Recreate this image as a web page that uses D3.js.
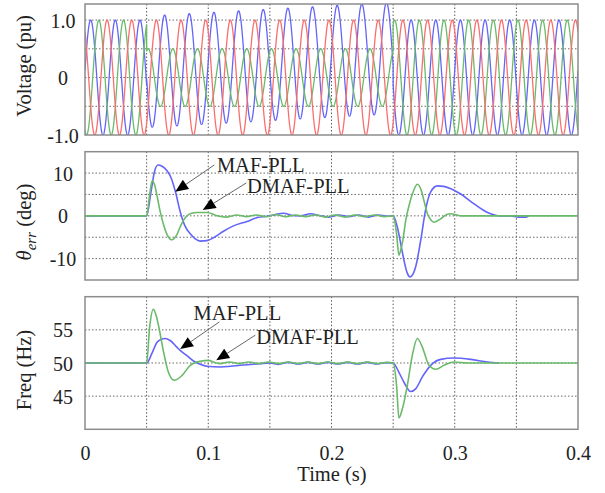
<!DOCTYPE html>
<html>
<head>
<meta charset="utf-8">
<script src="https://cdn.jsdelivr.net/npm/d3@7"></script>
<style>
  body { margin: 0; background: #fff; }
  svg { display: block; }
</style>
</head>
<body>
<div id="chart"></div>
<script>
// ---- data ----
const timeTicks = [0, 0.1, 0.2, 0.3, 0.4];
const timeGrid = [0.05, 0.1, 0.15, 0.2, 0.25, 0.3, 0.35];

// three-phase voltage: segment limits, crest time of phase a, per-phase amplitudes
const segBounds = [0, 0.05, 0.25, 0.4];
const gridFreq = 50;
const phaseAPeak = 0.0046;
const phaseLag = [0, 120, 240];
const ampA = [1, 0.97, 1];
const ampB = [1, 0.5, 1];
const ampC = [1, 1, 1];
// offset of phase a during the unbalance
const dcTimes = [0.05, 0.1, 0.15, 0.2, 0.25];
const dcA = [0.1, 0.16, 0.22, 0.28, 0.34];
const voltTicks = [-1, 0, 1];
const voltGrid = [-0.5, 0, 0.5, 1];

const thetaMAF = [[0,0],[0.05,0],[0.0535,5.5],[0.0565,10.5],[0.0592,11.9],[0.0625,11.6],[0.0664,10.6],
  [0.07,8.8],[0.0735,5.5],[0.0772,1.0],[0.081,-2.3],[0.0854,-4.2],[0.0895,-5.4],[0.0935,-5.9],[0.099,-5.8],
  [0.105,-5.0],[0.1124,-3.6],[0.12,-2.4],[0.1315,-1.3],[0.14,-0.4],[0.1477,-0.1],[0.153,0.2],[0.1612,0.6],
  [0.168,0.1],[0.1748,0],[0.183,0.5],[0.19,0.1],[0.198,-0.3],[0.206,0.2],[0.214,-0.2],[0.222,0.2],[0.23,-0.3],
  [0.238,0.2],[0.245,-0.1],[0.25,0],[0.2534,-2.6],[0.2565,-7.0],[0.2588,-10.4],[0.2615,-13.4],[0.2637,-14.3],
  [0.266,-13.7],[0.2683,-11.9],[0.2724,-5.7],[0.2764,1.5],[0.2805,5.6],[0.2859,7.0],[0.291,6.9],[0.2994,6.0],
  [0.3049,5.1],[0.3157,2.8],[0.3266,0.8],[0.3374,0],[0.345,0],[0.352,-0.3],[0.358,-0.3],[0.36,0]];
const thetaDMAF = [[0,0],[0.05,0],[0.0525,5.0],[0.0545,8.2],[0.0565,7.2],[0.0585,4.6],[0.061,1.0],[0.0637,-2.0],
  [0.067,-4.6],[0.0705,-5.6],[0.074,-4.7],[0.0772,-2.6],[0.08,-1.0],[0.0827,0],[0.0865,0.6],[0.0908,0.8],
  [0.099,0.8],[0.104,0.4],[0.107,0],[0.115,-0.3],[0.123,0.2],[0.131,-0.2],[0.139,0.2],[0.147,-0.2],[0.155,0.3],
  [0.163,-0.2],[0.171,0.2],[0.179,-0.2],[0.187,0.2],[0.195,-0.3],[0.203,0.2],[0.211,-0.3],[0.219,0.2],
  [0.227,-0.2],[0.235,0.2],[0.243,-0.2],[0.25,0],[0.2528,-4.2],[0.2547,-9.2],[0.2561,-8.1],[0.258,-5.5],
  [0.2602,-1.1],[0.263,2.5],[0.2656,5.1],[0.2697,7.4],[0.2729,5.9],[0.2755,3.0],[0.2778,0.5],[0.2805,-0.9],
  [0.2832,-1.5],[0.2886,-0.7],[0.2935,0.3],[0.2967,0.5],[0.3049,0],[0.4,0]];
const thetaTicks = [-10, 0, 10];
const thetaGrid = [-10, -5, 0, 5, 10];

const freqMAF = [[0,50],[0.05,50],[0.0542,51.4],[0.0583,53.1],[0.062,53.6],[0.065,53.7],[0.0691,53.4],
  [0.0745,52.4],[0.0772,51.9],[0.0827,51.1],[0.088,50.3],[0.0935,49.8],[0.099,49.5],[0.1098,49.4],[0.118,49.5],
  [0.126,49.65],[0.1423,49.9],[0.15,50.0],[0.157,49.8],[0.165,50.1],[0.173,49.85],[0.181,50.1],[0.189,49.85],
  [0.197,50.1],[0.205,49.85],[0.213,50.1],[0.221,49.85],[0.229,50.1],[0.237,49.85],[0.245,50.05],[0.25,50],
  [0.2547,48.6],[0.2588,47.1],[0.2642,45.7],[0.2683,46.1],[0.2737,47.9],[0.2805,49.65],[0.2886,50.55],
  [0.2994,50.75],[0.313,50.55],[0.3266,50.15],[0.336,50]];
const freqDMAF = [[0,50],[0.05,50],[0.0525,55.5],[0.0555,58.1],[0.0575,57.3],[0.0596,55.7],[0.0637,51.7],
  [0.0677,48.6],[0.0724,47.4],[0.0786,48.1],[0.0854,49.65],[0.0935,50.26],[0.1003,50.4],[0.105,50.1],
  [0.1098,49.9],[0.117,50.15],[0.125,49.9],[0.133,50.15],[0.141,49.9],[0.149,50.15],[0.157,49.9],[0.165,50.15],
  [0.173,49.9],[0.181,50.15],[0.189,49.9],[0.197,50.15],[0.205,49.9],[0.213,50.15],[0.221,49.9],[0.229,50.15],
  [0.237,49.9],[0.245,50.1],[0.25,50],[0.2528,46.6],[0.2547,41.7],[0.2575,43.1],[0.2615,46.6],[0.2656,51.2],
  [0.2697,53.7],[0.2737,52.4],[0.2791,49.65],[0.2846,49.05],[0.2913,49.65],[0.2994,50.15],[0.31,50],[0.4,50]];
const freqTicks = [45, 50, 55];
const freqGrid = [45, 50, 55];

// ---- drawing ----
const W = 605, H = 493;
const font = "'Liberation Serif', 'Times New Roman', serif";
const BLUE = "#6464fa", GREEN = "#6aba6a", RED = "#fb6e6e";

const svg = d3.select("#chart").append("svg")
    .attr("width", W)
    .attr("height", H)
    .style("font-family", font);

const x = d3.scaleLinear().domain([0, 0.4]).range([85, 578]);

// plain hyphen for negatives, like the original figure
const fmt1 = d => d === 0 ? "0" : d.toFixed(1);
const fmt0 = d => String(d);

function panel(id, top, bottom, domain, ticks, grid, fmt) {
    const y = d3.scaleLinear().domain(domain).range([bottom, top]);
    const g = svg.append("g");

    g.append("clipPath").attr("id", "clip-" + id)
        .append("rect")
        .attr("x", x(0)).attr("y", top)
        .attr("width", x(0.4) - x(0)).attr("height", bottom - top);

    g.selectAll(".hgrid").data(grid).enter().append("line")
        .attr("x1", x(0)).attr("x2", x(0.4))
        .attr("y1", d => y(d)).attr("y2", d => y(d))
        .attr("stroke", "#6a6a6a").attr("stroke-width", 1)
        .attr("stroke-dasharray", "1.5,2");

    g.selectAll(".vgrid").data(timeGrid).enter().append("line")
        .attr("x1", d => x(d)).attr("x2", d => x(d))
        .attr("y1", top).attr("y2", bottom)
        .attr("stroke", "#5a5a5a").attr("stroke-width", 1)
        .attr("stroke-dasharray", "1.5,2");

    const ax = g.append("g")
        .attr("transform", "translate(63,0)")
        .call(d3.axisLeft(y).tickValues(ticks).tickSize(0).tickFormat(fmt));
    ax.select(".domain").remove();
    ax.selectAll("text")
        .attr("x", 0).attr("dy", "0.35em")
        .attr("text-anchor", "middle")
        .style("font-family", font).style("font-size", "20px").attr("fill", "#222");

    const plot = g.append("g").attr("clip-path", "url(#clip-" + id + ")");
    return {y, g, plot, top, bottom};
}

function frame(p) {
    p.g.append("rect")
        .attr("x", x(0)).attr("y", p.top)
        .attr("width", x(0.4) - x(0)).attr("height", p.bottom - p.top)
        .attr("fill", "none").attr("stroke", "#8c8c8c").attr("stroke-width", 1.5);
}

function drawLine(p, data, color, w, curve) {
    const line = d3.line()
        .x(d => x(d[0]))
        .y(d => p.y(d[1]))
        .curve(curve || d3.curveLinear);
    p.plot.append("path")
        .datum(data)
        .attr("fill", "none")
        .attr("stroke", color)
        .attr("stroke-width", w)
        .attr("stroke-linejoin", "round")
        .attr("d", line);
}

function arrow(p, from, tip) {
    const x1 = x(from[0]), y1 = p.y(from[1]);
    const x2 = x(tip[0]), y2 = p.y(tip[1]);
    const len = Math.hypot(x2 - x1, y2 - y1);
    const ux = (x2 - x1) / len, uy = (y2 - y1) / len;
    const hl = 13, hw = 5.5;
    const bx = x2 - ux * hl, by = y2 - uy * hl;
    p.g.append("line")
        .attr("x1", x1).attr("y1", y1).attr("x2", bx).attr("y2", by)
        .attr("stroke", "#666").attr("stroke-width", 1);
    p.g.append("path")
        .attr("d", `M${x2},${y2}L${bx - uy * hw},${by + ux * hw}L${bx + uy * hw},${by - ux * hw}Z`)
        .attr("fill", "#000");
}

function note(p, text, at) {
    p.g.append("text")
        .attr("x", x(at[0])).attr("y", p.y(at[1]))
        .style("font-size", "20.5px").attr("fill", "#222")
        .text(text);
}

function yTitle(cx, cy) {
    return svg.append("text")
        .attr("transform", `translate(${cx},${cy}) rotate(-90)`)
        .attr("text-anchor", "middle")
        .style("font-size", "20.5px").attr("fill", "#222");
}

// panel 1: voltages
const p1 = panel("v", 4, 135, [-1, 1.28], voltTicks, voltGrid, fmt1);
const dc = d3.scaleLinear().domain(dcTimes).range(dcA).clamp(true);
const amps = [ampA, ampB, ampC];
function phaseSeries(k) {
    const pts = [];
    for (let s = 0; s < 3; s++) {
        const n = Math.round((segBounds[s + 1] - segBounds[s]) / 1e-4);
        for (let i = 0; i <= n; i++) {
            const t = segBounds[s] + i * 1e-4;
            const off = (k === 0 && s === 1) ? dc(t) : 0;
            const ang = 2 * Math.PI * gridFreq * (t - phaseAPeak) - phaseLag[k] * Math.PI / 180;
            pts.push([t, off + amps[k][s] * Math.cos(ang)]);
        }
    }
    return pts;
}
[BLUE, GREEN, RED].forEach((c, k) => drawLine(p1, phaseSeries(k), c, 1.3));
frame(p1);
yTitle(31, 66).text("Voltage (pu)");

// panel 2: phase error
const p2 = panel("t", 151.7, 280, [-15, 15], thetaTicks, thetaGrid, fmt0);
drawLine(p2, thetaMAF, BLUE, 1.6, d3.curveMonotoneX);
drawLine(p2, thetaDMAF, GREEN, 1.6, d3.curveMonotoneX);
frame(p2);
note(p2, "MAF-PLL", [0.107, 10.3]);
arrow(p2, [0.1049, 11.9], [0.0732, 5.65]);
note(p2, "DMAF-PLL", [0.1315, 5.4]);
arrow(p2, [0.1309, 7.7], [0.0955, 1.35]);
const tt = yTitle(31, 222);
tt.append("tspan").style("font-style", "italic").text("θ");
tt.append("tspan").style("font-style", "italic").style("font-size", "15px")
    .attr("dy", 5).text("err");
tt.append("tspan").attr("dy", -5).text(" (deg)");

// panel 3: frequency
const p3 = panel("f", 296.7, 429.3, [40, 60], freqTicks, freqGrid, fmt0);
drawLine(p3, freqMAF, BLUE, 1.6, d3.curveMonotoneX);
drawLine(p3, freqDMAF, GREEN, 1.6, d3.curveMonotoneX);
frame(p3);
note(p3, "MAF-PLL", [0.088, 56.5]);
arrow(p3, [0.109, 56.2], [0.0772, 52.1]);
note(p3, "DMAF-PLL", [0.139, 52.8]);
arrow(p3, [0.1382, 54.2], [0.1065, 50.4]);
yTitle(31, 370).text("Freq (Hz)");

// time axis
const xa = svg.append("g")
    .attr("transform", "translate(0,442)")
    .call(d3.axisBottom(x).tickValues(timeTicks).tickSize(0).tickFormat(fmt1));
xa.select(".domain").remove();
xa.selectAll("text")
    .attr("y", 18).attr("dy", 0)
    .style("font-family", font).style("font-size", "20px").attr("fill", "#222");

svg.append("text")
    .attr("x", 332).attr("y", 481)
    .attr("text-anchor", "middle")
    .style("font-size", "20.5px").attr("fill", "#222")
    .text("Time (s)");
</script>
</body>
</html>
